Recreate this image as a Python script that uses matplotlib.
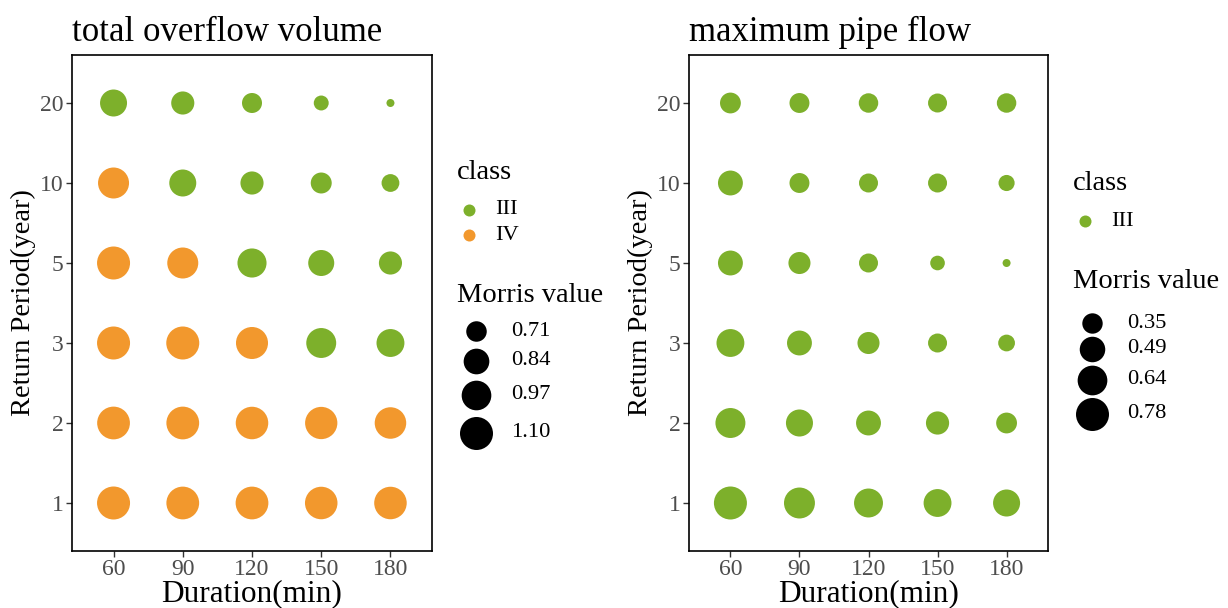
import numpy as np
import matplotlib.pyplot as plt

plt.rcParams['font.family'] = ['Liberation Serif', 'DejaVu Serif']

durations = ['60', '90', '120', '150', '180']
periods = ['1', '2', '3', '5', '10', '20']

# Morris values, rows = return period (1,2,3,5,10,20), cols = duration
overflow_morris = [
    [1.10, 1.09, 1.09, 1.08, 1.08],
    [1.09, 1.09, 1.08, 1.07, 1.04],
    [1.10, 1.10, 1.06, 0.98, 0.91],
    [1.10, 1.02, 0.95, 0.85, 0.77],
    [1.02, 0.88, 0.77, 0.72, 0.66],
    [0.88, 0.77, 0.70, 0.62, 0.58],
]
overflow_class = [
    ['IV', 'IV', 'IV', 'IV', 'IV'],
    ['IV', 'IV', 'IV', 'IV', 'IV'],
    ['IV', 'IV', 'IV', 'III', 'III'],
    ['IV', 'IV', 'III', 'III', 'III'],
    ['IV', 'III', 'III', 'III', 'III'],
    ['III', 'III', 'III', 'III', 'III'],
]
overflow_breaks = [0.71, 0.84, 0.97, 1.10]

pipe_morris = [
    [0.78, 0.69, 0.61, 0.57, 0.54],
    [0.65, 0.54, 0.47, 0.42, 0.36],
    [0.57, 0.47, 0.39, 0.32, 0.28],
    [0.47, 0.39, 0.32, 0.25, 0.21],
    [0.47, 0.34, 0.32, 0.32, 0.27],
    [0.36, 0.34, 0.33, 0.32, 0.33],
]
pipe_class = [['III'] * 5 for _ in range(6)]
pipe_breaks = [0.35, 0.49, 0.64, 0.78]

class_colors = {'III': '#7DB02B', 'IV': '#F2982D'}

W, H = 1228, 608
DMIN, DMAX = 8, 33  # point diameters in pixels


def box(x0, y0, x1, y1):
    return [x0 / W, 1 - y1 / H, (x1 - x0) / W, (y1 - y0) / H]


def diam(v, vmin, vmax):
    v = np.asarray(v, dtype=float)
    return DMIN + (DMAX - DMIN) * np.sqrt((v - vmin) / (vmax - vmin))


def area(d_px):
    # scatter size in points^2 from a pixel diameter (dpi=100)
    return (np.asarray(d_px) * 0.72) ** 2


def panel(fig, rect, title, morris, classes, breaks, leg_x, leg_y, first_off, gap):
    ax = fig.add_axes(box(*rect))
    vals = np.array(morris)
    vmin, vmax = vals.min(), vals.max()
    xs, ys, cs = [], [], []
    for i in range(len(periods)):
        for j in range(len(durations)):
            xs.append(j)
            ys.append(i)
            cs.append(class_colors[classes[i][j]])
    ax.scatter(xs, ys, s=area(diam(vals.ravel(), vmin, vmax)), c=cs, linewidths=0)
    ax.set_xlim(-0.6, len(durations) - 0.4)
    ax.set_ylim(-0.6, len(periods) - 0.4)
    ax.set_xticks(range(len(durations)), durations)
    ax.set_yticks(range(len(periods)), periods)
    ax.tick_params(length=4, width=1, color='#333333', labelcolor='#4D4D4D',
                   labelsize=17, pad=2)
    ax.tick_params(axis='x', pad=2)
    for sp in ax.spines.values():
        sp.set_linewidth(1.2)
    ax.set_title(title, loc='left', fontsize=25, pad=10)
    ax.set_xlabel('Duration(min)', fontsize=22.5, labelpad=-1)
    ax.set_ylabel('Return Period(year)', fontsize=20.5, labelpad=3)

    # legend: class
    fig.text(leg_x / W, 1 - leg_y / H, 'class', fontsize=20.5, va='baseline')
    used = [c for c in class_colors if any(c in row for row in classes)]
    lax = fig.add_axes([0, 0, 1, 1], facecolor='none')
    lax.set_xlim(0, W)
    lax.set_ylim(H, 0)
    lax.axis('off')
    for k, c in enumerate(used):
        yy = leg_y + 31 + 25 * k
        lax.scatter([leg_x + 12], [yy], s=area(12), c=class_colors[c], linewidths=0)
        fig.text((leg_x + 38) / W, 1 - yy / H, c, fontsize=16.2, va='center')
    # legend: Morris value
    my = leg_y + 31 + 25 * len(used) + 42
    fig.text(leg_x / W, 1 - my / H, 'Morris value', fontsize=20.5, va='baseline')
    ds = diam(breaks, vmin, vmax)
    yy = my + first_off
    prev = None
    for b, d in zip(breaks, ds):
        if prev is not None:
            yy += (prev + d) / 2 + gap
        lax.scatter([leg_x + 19], [yy], s=area(d), c='black', linewidths=0)
        fig.text((leg_x + 54) / W, 1 - yy / H, f'{b:.2f}', fontsize=16.2, va='center')
        prev = d
    return ax


fig = plt.figure(figsize=(W / 100, H / 100), dpi=100)
panel(fig, (72, 55, 432, 551), 'total overflow volume', overflow_morris,
      overflow_class, overflow_breaks, 457, 179, 29, 6.5)
panel(fig, (689, 55, 1048, 551), 'maximum pipe flow', pipe_morris,
      pipe_class, pipe_breaks, 1073, 190, 35, 3)

fig.savefig('out.png', dpi=100)
